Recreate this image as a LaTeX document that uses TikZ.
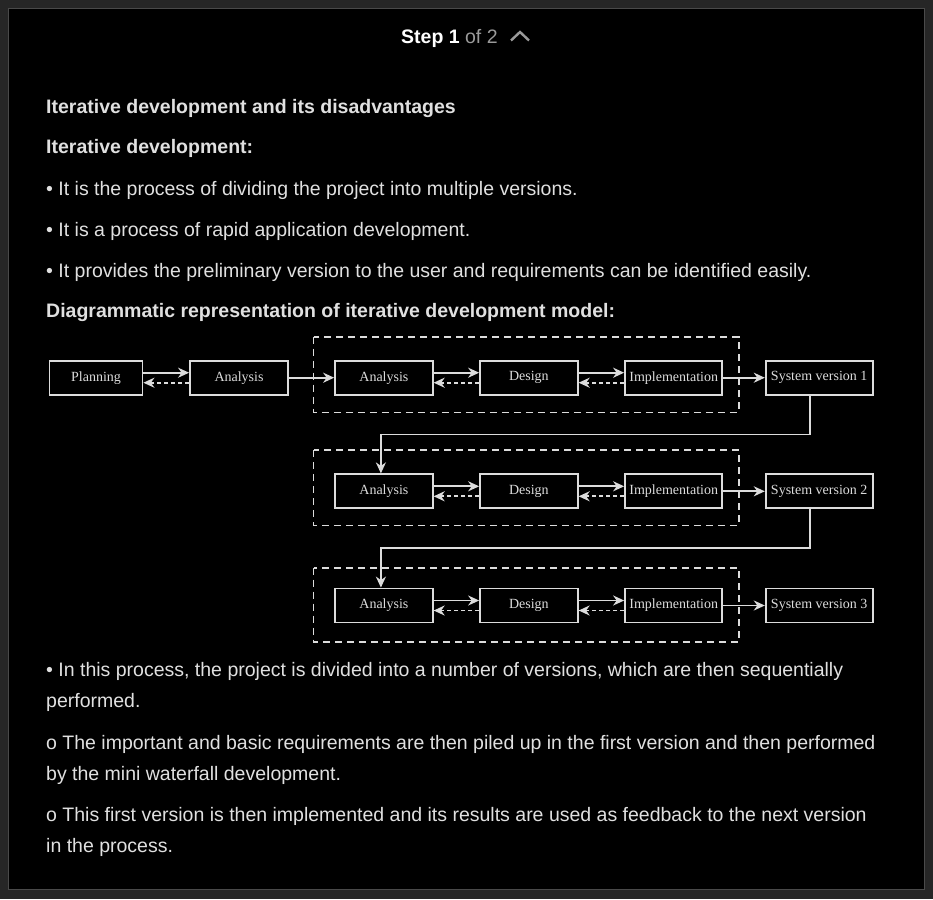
\documentclass[tikz,border=0pt]{standalone}
\usepackage{fontspec}
\setmainfont{Liberation Sans}
\newfontfamily\dgfont{Liberation Serif}
\usepackage{tikz}
\usetikzlibrary{arrows.meta,calc,positioning}
\definecolor{txtcol}{HTML}{E0E0E0}
\definecolor{dimcol}{HTML}{9A9A9A}
\definecolor{boxcol}{HTML}{DCDCDC}
\definecolor{framecol}{HTML}{4A4A4A}
\definecolor{outcol}{HTML}{262626}
\tikzset{
	txt/.style={anchor=base west,inner sep=0pt,text=txtcol,font=\fontsize{19.5}{23}\selectfont},
	hdr/.style={txt,font=\fontsize{19.5}{23}\selectfont\bfseries},
	stage/.style={draw=boxcol,line width=1.8pt,inner sep=0pt,minimum height=34pt,text=boxcol,font=\dgfont\fontsize{14}{16}\selectfont},
	flow/.style={draw=boxcol,line width=1.8pt,-{Stealth[length=11pt,width=10pt,inset=3.5pt]}},
	back/.style={flow,dash pattern=on 4pt off 3pt},
	group/.style={draw=boxcol,line width=1.6pt,dash pattern=on 7pt off 5pt}
}
\begin{document}
\begin{tikzpicture}[x=1pt,y=-1pt]
	\useasboundingbox (0,0) rectangle (933,899);
	\fill[outcol] (0,0) rectangle (933,899);
	\draw[framecol,line width=1.5pt,fill=black] (8.5,8.5) rectangle (924.5,889.5);
	\node[hdr,text=white] (step) at (401,43.5) {Step 1};
	\node[txt,text=dimcol,right=5pt of step.base east,anchor=base west] (of) {of 2};
	\draw[dimcol,line width=2.4pt] (511,40.5) -- (520,32) -- (529,40.5);
	\node[hdr] (t1) at (46,113) {Iterative development and its disadvantages};
	\node[hdr] (t2) at (46,153) {Iterative development:};
	\node[txt] (t3) at (46,195) {\textbullet\ It is the process of dividing the project into multiple versions.};
	\node[txt] (t4) at (46,236) {\textbullet\ It is a process of rapid application development.};
	\node[txt] (t5) at (46,277) {\textbullet\ It provides the preliminary version to the user and requirements can be identified easily.};
	\node[hdr] (t6) at (46,317) {Diagrammatic representation of iterative development model:};
	\node[txt] (t7) at (46,676) {\textbullet\ In this process, the project is divided into a number of versions, which are then sequentially};
	\node[txt] (t8) at (46,707) {performed.};
	\node[txt] (t9) at (46,749) {o The important and basic requirements are then piled up in the first version and then performed};
	\node[txt] (t10) at (46,780) {by the mini waterfall development.};
	\node[txt] (t11) at (46,821) {o This first version is then implemented and its results are used as feedback to the next version};
	\node[txt] (t12) at (46,852) {in the process.};
	\draw[group] (313.5,336.7) rectangle (738.7,412.3);
	\draw[group] (313.5,450) rectangle (738.7,525.3);
	\draw[group] (313.5,567.7) rectangle (738.7,642);
	\node[stage,minimum width=93pt] (plan) at (96,377.7) {Planning};
	\node[stage,minimum width=98pt] (ana0) at (239,377.7) {Analysis};
	\foreach \r/\y in {1/377.7,2/491.3,3/605.5} {
		\node[stage,minimum width=97.7pt] (ana\r) at (383.9,\y) {Analysis};
		\node[stage,minimum width=97.7pt] (des\r) at (528.9,\y) {Design};
		\node[stage,minimum width=97.3pt] (imp\r) at (673.7,\y) {Implementation};
		\node[stage,minimum width=107pt] (sys\r) at (819.2,\y) {System version \r};
		\draw[flow] ($(ana\r.east)+(0,-5)$) -- ($(des\r.west)+(0,-5)$);
		\draw[back] ($(des\r.west)+(0,5)$) -- ($(ana\r.east)+(0,5)$);
		\draw[flow] ($(des\r.east)+(0,-5)$) -- ($(imp\r.west)+(0,-5)$);
		\draw[back] ($(imp\r.west)+(0,5)$) -- ($(des\r.east)+(0,5)$);
		\draw[flow] (imp\r) -- (sys\r);
	}
	\draw[flow] ($(plan.east)+(0,-5)$) -- ($(ana0.west)+(0,-5)$);
	\draw[back] ($(ana0.west)+(0,5)$) -- ($(plan.east)+(0,5)$);
	\draw[flow] (ana0) -- (ana1);
	\coordinate (turn1) at (810,434.5);
	\coordinate (turn2) at (810,548.3);
	\draw[flow] (sys1.south -| turn1) -- (turn1) -| ($(ana2.north)+(-3,0)$);
	\draw[flow] (sys2.south -| turn2) -- (turn2) -| ($(ana3.north)+(-3,0)$);
\end{tikzpicture}
\end{document}
